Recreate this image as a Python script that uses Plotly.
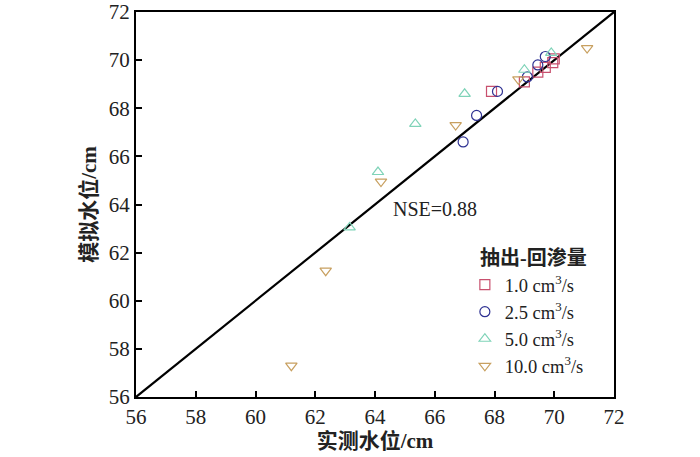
import plotly.graph_objects as go

# Data (observed x, simulated y)
s1_x = [67.9, 69.0, 69.45, 69.7, 69.95, 70.0]
s1_y = [68.7, 69.1, 69.5, 69.7, 69.9, 70.05]
s2_x = [68.1, 69.1, 69.45, 69.7, 67.4, 66.95]
s2_y = [68.7, 69.3, 69.8, 70.15, 67.7, 66.6]
s3_x = [67.0, 69.0, 69.9, 65.35, 64.1, 63.15]
s3_y = [68.6, 69.6, 70.3, 67.35, 65.35, 63.05]
s4_x = [71.1, 68.8, 66.7, 64.2, 62.35, 61.2]
s4_y = [70.5, 69.2, 67.3, 64.95, 61.25, 57.3]

series_names = ["1.0 cm<sup>3</sup>/s", "2.5 cm<sup>3</sup>/s", "5.0 cm<sup>3</sup>/s", "10.0 cm<sup>3</sup>/s"]
ticks = [56, 58, 60, 62, 64, 66, 68, 70, 72]
line_xy = [56, 72]

FONT = "Liberation Serif, Times New Roman, Noto Sans CJK SC"

fig = go.Figure()
fig.add_trace(go.Scatter(x=line_xy, y=line_xy, mode="lines",
                         line=dict(color="black", width=2.2), showlegend=False, hoverinfo="skip"))

styles = [
    ("square-open", "#c8506e"),
    ("circle-open", "#2e3192"),
    ("triangle-up-open", "#7fd3b8"),
    ("triangle-down-open", "#c8a060"),
]
data = [(s1_x, s1_y), (s2_x, s2_y), (s3_x, s3_y), (s4_x, s4_y)]
for (xs, ys), name, (sym, col) in zip(data, series_names, styles):
    fig.add_trace(go.Scatter(x=xs, y=ys, mode="markers", name=name,
                             marker=dict(symbol=sym, size=10, color=col, line=dict(width=1.2, color=col))))

fig.add_annotation(x=64.55, y=63.8, text="NSE=0.88", showarrow=False, xanchor="left",
                   font=dict(family=FONT, size=20, color="#222"))
fig.add_annotation(x=0.7155, y=0.3636, xref="paper", yref="paper", text="<b>抽出-回渗量</b>",
                   showarrow=False, xanchor="left", yanchor="middle",
                   font=dict(family=FONT, size=20, color="#222"))

axis_common = dict(range=[56, 72], tickvals=ticks, ticks="inside", ticklen=6, tickwidth=1.5,
                   tickcolor="black", showline=True, linecolor="black", linewidth=2, mirror=True,
                   showgrid=False, zeroline=False, automargin=False,
                   tickfont=dict(family=FONT, size=21, color="#222"))

fig.update_layout(
    width=700, height=457,
    margin=dict(l=136, r=86, t=12, b=60),
    plot_bgcolor="white", paper_bgcolor="white",
    xaxis=dict(**axis_common, title=dict(text="<b>实测水位/cm</b>", font=dict(family=FONT, size=21, color="#222"), standoff=4)),
    yaxis=dict(**axis_common, title=dict(text="<b>模拟水位/cm</b>", font=dict(family=FONT, size=21, color="#222"), standoff=6)),
    legend=dict(x=0.688, y=0.34, xanchor="left", yanchor="top", bgcolor="rgba(0,0,0,0)",
                font=dict(family=FONT, size=18.5, color="#222"), tracegroupgap=0, itemwidth=30),
)

fig.write_html("out.html", config={"displayModeBar": False},
               post_script="document.body.style.margin='0';document.body.style.overflow='hidden';")
